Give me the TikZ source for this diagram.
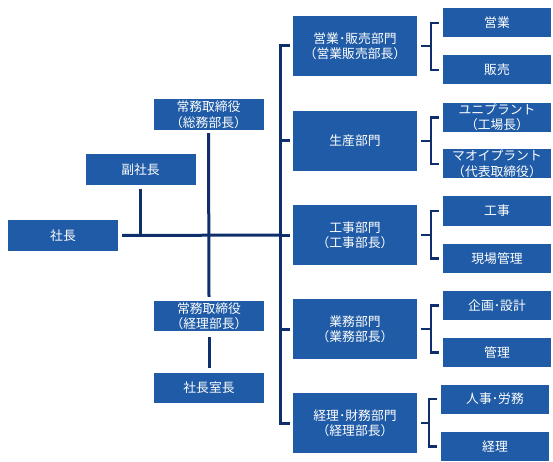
\documentclass[tikz,border=0pt]{standalone}
\usepackage{fontspec}
\setmainfont{Noto Sans CJK JP}
\usetikzlibrary{positioning, calc}
\definecolor{cbox}{HTML}{1F5BA6}
\definecolor{cline}{HTML}{0E2F6B}
\tikzset{
  every picture/.style={x=1pt, y=-1pt},
  box/.style={fill=cbox, text=white, align=center, inner sep=0pt,
              font=\fontsize{12.8}{15.5}\selectfont},
  conn/.style={draw=cline, line width=3pt},
  brace/.style={draw=cline, line width=2.5pt},
}
\begin{document}
\begin{tikzpicture}[top/.style={box, minimum width=110pt, minimum height=31pt},
                    dept/.style={box, minimum width=124pt, minimum height=60pt},
                    sub/.style={box, minimum width=108pt, minimum height=29pt}]
  \useasboundingbox (0,0) rectangle (553,462);
  % left side
  \node[top] (ceo) at (63, 235.5) {社長};
  \node[top] (vp) at (140.5, 170) {副社長};
  \node[top] (md1) at (208.5, 114.5) {常務取締役\\（総務部長）};
  \node[top, minimum height=30pt] (md2) at (209, 316) {常務取締役\\（経理部長）};
  \node[top, minimum height=30pt] (office) at (209, 388) {社長室長};
  % departments
  \node[dept] (d1) at (355, 46) {営業･販売部門\\（営業販売部長）};
  \node[dept] (d2) at (355, 141) {生産部門};
  \node[dept] (d3) at (355, 235) {工事部門\\（工事部長）};
  \node[dept] (d4) at (355, 329) {業務部門\\（業務部長）};
  \node[dept] (d5) at (355, 423) {経理･財務部門\\（経理部長）};
  % sections
  \node[sub] (s1a) at (497, 23) {営業};
  \node[sub] (s1b) at (497, 70) {販売};
  \node[sub] (s2a) at (497, 117.5) {ユニプラント\\（工場長）};
  \node[sub] (s2b) at (497, 164) {マオイプラント\\（代表取締役）};
  \node[sub] (s3a) at (497, 211) {工事};
  \node[sub] (s3b) at (497, 258.5) {現場管理};
  \node[sub] (s4a) at (497, 305.5) {企画･設計};
  \node[sub] (s4b) at (497, 352.5) {管理};
  \node[sub] (s5a) at (495, 399) {人事･労務};
  \node[sub] (s5b) at (495, 446.5) {経理};
  % lines
  \draw[conn] ([xshift=4]ceo.east) -- ([xshift=-12]d3.west);
  \draw[conn] ([yshift=-3]vp.south) -- (vp.south |- ceo.east);
  \draw[conn] ([yshift=-3]md1.south) -- ([yshift=4]md2.north);
  \draw[conn] ([yshift=-6]md2.south) -- ([yshift=5]office.north);
  \draw[conn] ([xshift=-3]d1.west) -| ([xshift=-12]d5.west) -- ([xshift=-3]d5.west);
  \draw[conn] ([xshift=-12]d2.west) -- ([xshift=-3]d2.west);
  \draw[conn] ([xshift=-12]d3.west) -- ([xshift=-3]d3.west);
  \draw[conn] ([xshift=-12]d4.west) -- ([xshift=-3]d4.west);
  % brackets
  \draw[brace] ([xshift=4]d1.east) -- ([xshift=-12]s1a.west |- d1.east);
  \draw[brace] ([xshift=-4]s1a.west) -| ([xshift=-12]s1b.west) -- ([xshift=-4]s1b.west);
  \draw[brace] ([xshift=4]d2.east) -- ([xshift=-12]s2a.west |- d2.east);
  \draw[brace] ([xshift=-4]s2a.west) -| ([xshift=-12]s2b.west) -- ([xshift=-4]s2b.west);
  \draw[brace] ([xshift=4]d3.east) -- ([xshift=-12]s3a.west |- d3.east);
  \draw[brace] ([xshift=-4]s3a.west) -| ([xshift=-12]s3b.west) -- ([xshift=-4]s3b.west);
  \draw[brace] ([xshift=4]d4.east) -- ([xshift=-12]s4a.west |- d4.east);
  \draw[brace] ([xshift=-4]s4a.west) -| ([xshift=-12]s4b.west) -- ([xshift=-4]s4b.west);
  \draw[brace] ([xshift=4]d5.east) -- ([xshift=-12]s5a.west |- d5.east);
  \draw[brace] ([xshift=-4]s5a.west) -| ([xshift=-12]s5b.west) -- ([xshift=-4]s5b.west);
\end{tikzpicture}
\end{document}
